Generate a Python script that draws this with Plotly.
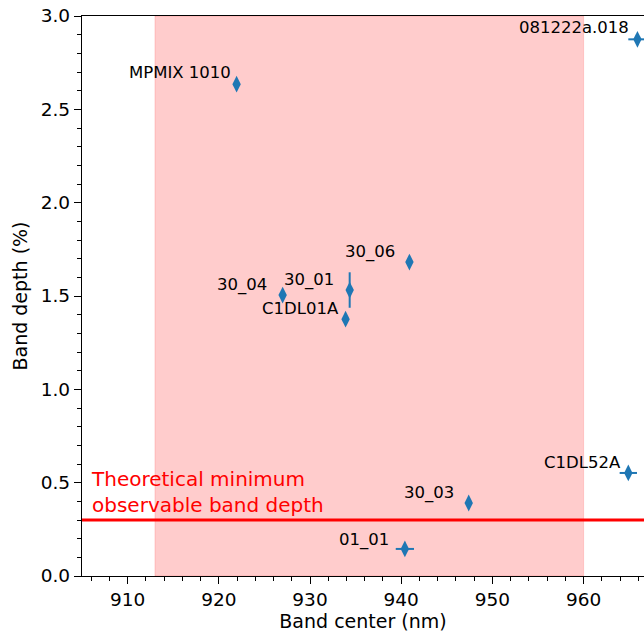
import plotly.graph_objects as go

# ---- data ----
labels = ["MPMIX 1010", "081222a.018", "30_06", "30_04", "30_01",
          "C1DL01A", "C1DL52A", "30_03", "01_01"]
band_center = [921.95, 965.9, 940.9, 927.0, 934.35, 933.9, 964.9, 947.4, 940.4]
band_depth = [2.635, 2.875, 1.682, 1.505, 1.532, 1.376, 0.552, 0.391, 0.145]
center_err = [0.0, 1.0, 0.0, 0.0, 0.0, 0.0, 0.95, 0.0, 1.0]
depth_err = [0.0, 0.0, 0.0, 0.0, 0.095, 0.0, 0.0, 0.0, 0.0]

shade_range = [913, 960]
min_depth = 0.3
min_depth_text = "Theoretical minimum<br>observable band depth"

x_range = [905, 966.62]
y_range = [0, 3]
x_ticks = [910, 920, 930, 940, 950, 960]
y_ticks = [0.0, 0.5, 1.0, 1.5, 2.0, 2.5, 3.0]

# label pixel offsets (style)
label_xshift = [-4, -6, -12, -14, -14, -5, -5, -13, -14]
label_yshift = [12, 12, 10, 10, 10, 11, 10, 10, 9]

BLUE = "#1f77b4"
FONT = "DejaVu Sans"

fig = go.Figure()

fig.add_shape(type="rect", xref="x", yref="paper",
              x0=shade_range[0], x1=shade_range[1], y0=0, y1=1,
              fillcolor="rgba(255,0,0,0.2)",
              line=dict(color="rgba(255,0,0,0.15)", width=1),
              layer="below")

fig.add_shape(type="line", xref="paper", yref="y",
              x0=0, x1=1, y0=min_depth, y1=min_depth,
              line=dict(color="red", width=3), layer="below")

fig.add_trace(go.Scatter(
    x=band_center, y=band_depth, mode="markers",
    marker=dict(symbol="diamond-tall", size=12, color=BLUE,
                line=dict(width=0)),
    error_x=dict(type="data", array=center_err, width=0, thickness=2,
                 color=BLUE),
    error_y=dict(type="data", array=depth_err, width=0, thickness=2,
                 color=BLUE),
    showlegend=False, cliponaxis=False,
))

for lab, x, y, dx, dy in zip(labels, band_center, band_depth,
                             label_xshift, label_yshift):
    fig.add_annotation(x=x, y=y, text=lab, showarrow=False,
                       xanchor="right", yanchor="middle",
                       xshift=dx, yshift=dy,
                       font=dict(family=FONT, size=16.5, color="black"))

fig.add_annotation(x=x_range[0], y=min_depth, xref="x", yref="y",
                   text=min_depth_text, showarrow=False,
                   xanchor="left", yanchor="bottom", align="left",
                   xshift=7, yshift=1,
                   font=dict(family=FONT, size=20, color="red"))

fig.update_layout(
    width=644, height=633,
    margin=dict(l=82, r=0, t=16, b=57),
    plot_bgcolor="white", paper_bgcolor="white",
    font=dict(family=FONT, size=18.5, color="black"),
    xaxis=dict(range=x_range, tickvals=x_ticks, ticks="outside",
               ticklen=7, tickwidth=1.3, tickcolor="black",
               showline=True, linecolor="black", linewidth=1.3,
               mirror=True, showgrid=False, zeroline=False,
               minor=dict(dtick=2, ticks="outside", ticklen=4,
                          tickcolor="black", tickwidth=1),
               title=dict(text="Band center (nm)", font=dict(size=19),
                          standoff=4),
               tickfont=dict(size=18.5)),
    yaxis=dict(range=y_range, tickvals=y_ticks, tickformat=".1f",
               ticks="outside",
               ticklen=7, tickwidth=1.3, tickcolor="black",
               showline=True, linecolor="black", linewidth=1.3,
               showgrid=False, zeroline=False,
               minor=dict(dtick=0.1, ticks="outside", ticklen=4,
                          tickcolor="black", tickwidth=1),
               title=dict(text="Band depth (%)", font=dict(size=19),
                          standoff=8),
               tickfont=dict(size=18.5)),
)

fig.write_html("out.html",
               config={"displayModeBar": False},
               post_script="document.body.style.margin='0';"
                           "document.body.style.overflow='hidden';")
